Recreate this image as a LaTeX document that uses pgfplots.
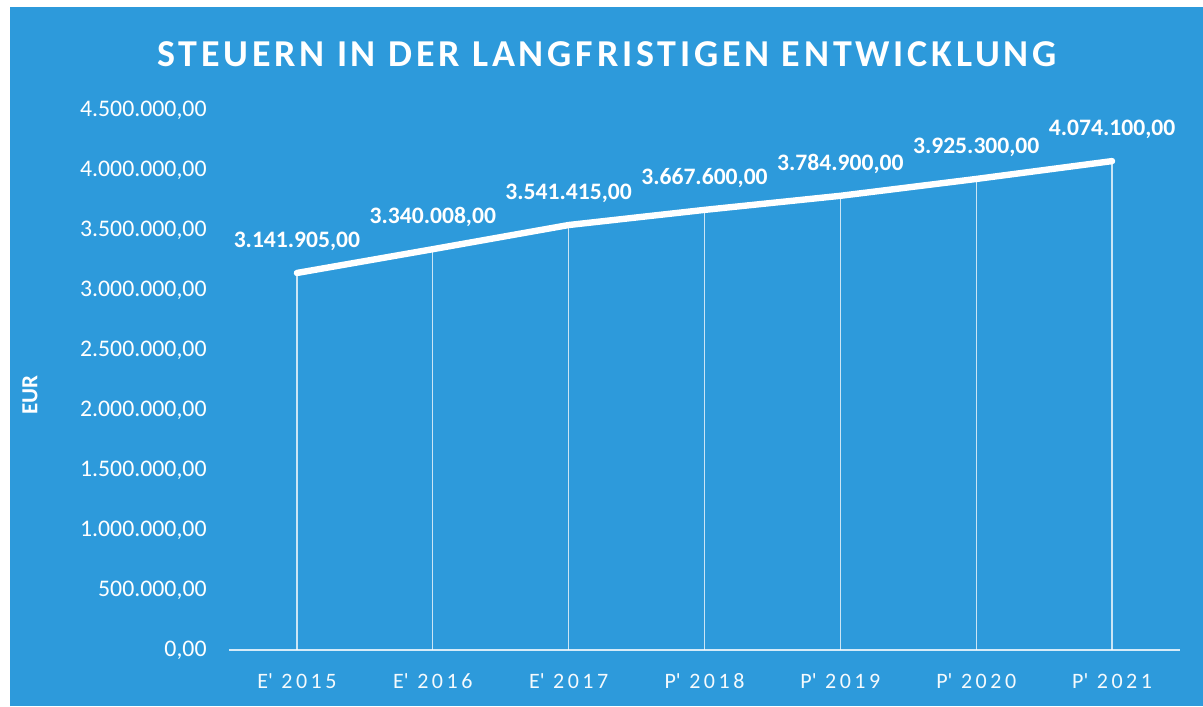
\documentclass[border=0pt]{standalone}
\usepackage{fontspec}
\setmainfont{Carlito}
\newfontfamily\titlefont[LetterSpace=10]{Carlito}
\newfontfamily\xlabfont[LetterSpace=16]{Carlito}
\usepackage{pgfplots}
\pgfplotsset{compat=1.18}
\definecolor{bg}{RGB}{45,154,219}
\begin{document}
\begin{tikzpicture}
\fill[white] (0,0) rectangle (601.5pt,353pt);
\fill[bg] (5pt,0) rectangle (601.5pt,349.5pt);
\begin{axis}[
  at={(114.5pt,28pt)}, anchor=south west,
  width=475.5pt, height=270pt, scale only axis,
  xmin=-0.5, xmax=6.5, ymin=0, ymax=4500000,
  axis x line*=bottom, axis y line*=left,
  x axis line style={-, draw=white!80!bg, line width=1pt},
  y axis line style={draw=none},
  tick style={draw=none},
  scaled y ticks=false,
  ytick={0,500000,...,4500000},
  xtick={0,...,6},
  xticklabels={E\textquotesingle\ 2015,E\textquotesingle\ 2016,E\textquotesingle\ 2017,P\textquotesingle\ 2018,P\textquotesingle\ 2019,P\textquotesingle\ 2020,P\textquotesingle\ 2021},
  /pgf/number format/assume math mode=true,
  yticklabel style={text=white, font=\fontsize{11.9pt}{13pt}\selectfont, anchor=east, inner sep=0pt, xshift=-11pt,
    /pgf/number format/.cd, fixed, fixed zerofill, precision=2, use comma, 1000 sep={.}},
  xticklabel style={text=white!95!bg, font=\xlabfont\fontsize{11pt}{12pt}\selectfont, anchor=north, inner sep=0pt, yshift=-11.5pt},
  clip=false,
]
\addplot[ycomb, draw=white, opacity=0.75, line width=0.6pt, no markers] coordinates {
  (0,3141905) (1,3340008) (2,3541415) (3,3667600) (4,3784900) (5,3925300) (6,4074100)};
\addplot[white, line width=3.2pt, line join=round, line cap=round, no markers,
  point meta=y,
  nodes near coords,
  nodes near coords style={text=white, font=\bfseries\fontsize{11.8pt}{13pt}\selectfont, anchor=south, inner sep=0pt, yshift=9.5pt,
    /pgf/number format/.cd, fixed, fixed zerofill, precision=2, use comma, 1000 sep={.}},
] coordinates {
  (0,3141905) (1,3340008) (2,3541415) (3,3667600) (4,3784900) (5,3925300) (6,4074100)};
\end{axis}
\node[text=white, font=\titlefont\bfseries\fontsize{19pt}{21pt}\selectfont] at (303.5pt,326pt) {STEUERN IN DER LANGFRISTIGEN ENTWICKLUNG};
\node[rotate=90, text=white, font=\bfseries\fontsize{11.5pt}{13pt}\selectfont] at (15pt,155.5pt) {EUR};
\end{tikzpicture}
\end{document}
